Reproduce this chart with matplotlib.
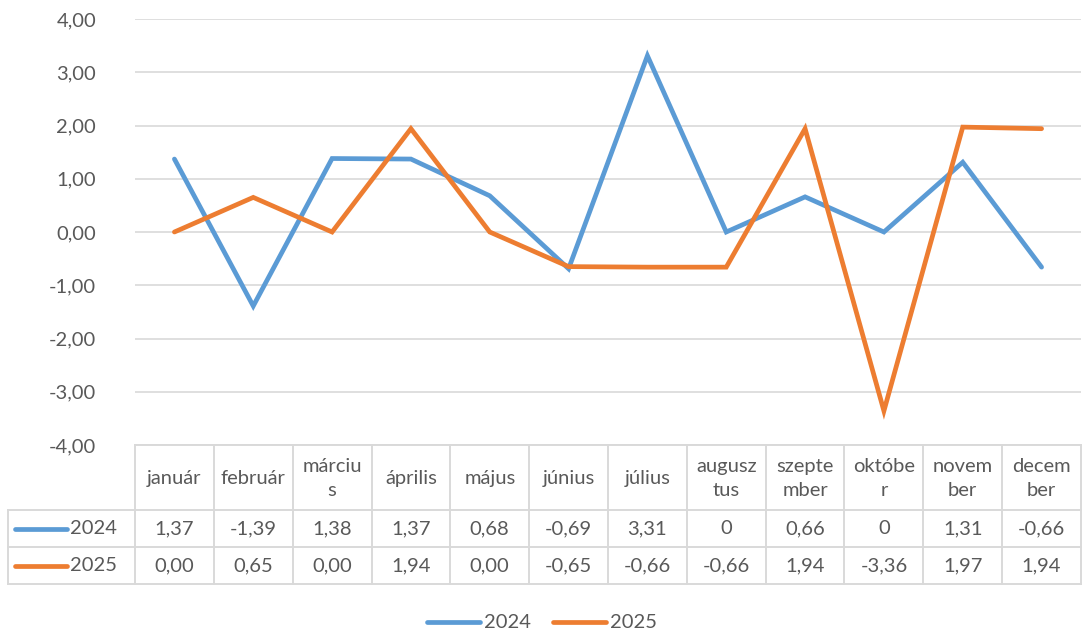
import matplotlib.pyplot as plt
from matplotlib.transforms import blended_transform_factory

plt.rcParams['font.family'] = ['Lato', 'DejaVu Sans']

months = ['január', 'február', 'márciu\ns', 'április', 'május', 'június', 'július',
          'augusz\ntus', 'szepte\nmber', 'októbe\nr', 'novem\nber', 'decem\nber']
v2024 = [1.37, -1.39, 1.38, 1.37, 0.68, -0.69, 3.31, 0, 0.66, 0, 1.31, -0.66]
v2025 = [0.00, 0.65, 0.00, 1.94, 0.00, -0.65, -0.66, -0.66, 1.94, -3.36, 1.97, 1.94]
lab2024 = ['1,37', '-1,39', '1,38', '1,37', '0,68', '-0,69', '3,31', '0', '0,66', '0', '1,31', '-0,66']
lab2025 = ['0,00', '0,65', '0,00', '1,94', '0,00', '-0,65', '-0,66', '-0,66', '1,94', '-3,36', '1,97', '1,94']
yticks = [-4, -3, -2, -1, 0, 1, 2, 3, 4]

blue = '#5B9BD5'
orange = '#ED7D31'
grid = '#D9D9D9'
txt = '#595959'
fs = 14.5

W, H = 1083, 634
fig = plt.figure(figsize=(W / 100, H / 100), dpi=100)
left, right, top, bottom = 135, 1081, 19, 445
ax = fig.add_axes([left / W, 1 - bottom / H, (right - left) / W, (bottom - top) / H])

x = list(range(len(months)))
ax.plot(x, v2024, color=blue, lw=3.4, solid_capstyle='round', solid_joinstyle='miter', zorder=3)
ax.plot(x, v2025, color=orange, lw=3.4, solid_capstyle='round', solid_joinstyle='miter', zorder=3)

ax.set_xlim(-0.5, len(months) - 0.5)
ax.set_ylim(-4, 4)
ax.set_yticks(yticks)
ax.set_yticklabels([f'{t:.2f}'.replace('.', ',') for t in yticks])
ax.tick_params(axis='y', length=0, labelsize=fs, labelcolor=txt, pad=28)
ax.set_xticks([])
for t in yticks:
    ax.axhline(t, color=grid, lw=1.2, zorder=1)
for s in ax.spines.values():
    s.set_visible(False)

# data table below the axes, pixel coords from top
tr = blended_transform_factory(ax.transData, fig.transFigure)


def fy(py):
    return 1 - py / H


def fx(px):
    return px / W


y_head, y_r1, y_r2, y_end = 445, 510, 547, 584
lw_t = 1.4
# horizontal lines
for yy, x0 in [(y_head, left), (y_r1, 8), (y_r2, 8), (y_end, 8)]:
    fig.add_artist(plt.Line2D([fx(x0), fx(right)], [fy(yy), fy(yy)], color=grid, lw=lw_t))
# vertical lines
for i in range(len(months) + 1):
    fig.add_artist(plt.Line2D([i - 0.5, i - 0.5], [fy(y_head), fy(y_end)], color=grid, lw=lw_t, transform=tr))
fig.add_artist(plt.Line2D([fx(8), fx(8)], [fy(y_r1), fy(y_end)], color=grid, lw=lw_t))

for i, m in enumerate(months):
    fig.text(i, fy((y_head + y_r1) / 2 + 1), m, transform=tr, ha='center', va='center',
             fontsize=fs, color=txt, linespacing=1.45)
    fig.text(i, fy((y_r1 + y_r2) / 2), lab2024[i], transform=tr, ha='center', va='center',
             fontsize=fs, color=txt)
    fig.text(i, fy((y_r2 + y_end) / 2), lab2025[i], transform=tr, ha='center', va='center',
             fontsize=fs, color=txt)

for yy, c, name in [((y_r1 + y_r2) / 2, blue, '2024'), ((y_r2 + y_end) / 2, orange, '2025')]:
    fig.add_artist(plt.Line2D([fx(15), fx(67)], [fy(yy), fy(yy)], color=c, lw=3.4, solid_capstyle='round'))
    fig.text(fx(70), fy(yy), name, ha='left', va='center', fontsize=fs, color=txt)

# legend
for x0, c, name in [(427, blue, '2024'), (553, orange, '2025')]:
    fig.add_artist(plt.Line2D([fx(x0), fx(x0 + 53)], [fy(622), fy(622)], color=c, lw=3.4, solid_capstyle='round'))
    fig.text(fx(x0 + 57), fy(622), name, ha='left', va='center', fontsize=fs, color=txt)

fig.savefig('out.png', dpi=100)
